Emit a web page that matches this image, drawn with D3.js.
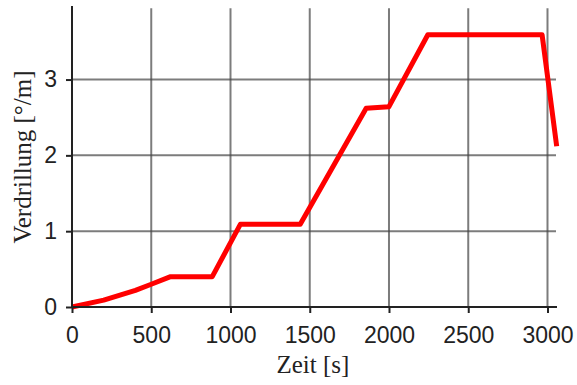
<!DOCTYPE html>
<html>
<head>
<meta charset="utf-8">
<script src="https://cdn.jsdelivr.net/npm/d3@7"></script>
<style>
  body { margin: 0; background: #fff; }
  .tick text { font-family: "Liberation Sans", Arial, sans-serif; font-size: 23px; fill: #222; }
  .axis-label { font-family: "Liberation Serif", "Times New Roman", serif; font-size: 25px; fill: #222; }
</style>
</head>
<body>
<svg id="chart" width="577" height="385"></svg>
<script>
/*** DATA ***/
var timeValues  = [0, 200, 400, 500, 622, 885, 1062, 1440, 1856, 1999, 2245, 2966, 3058];
var twistValues = [0, 0.09, 0.22, 0.30, 0.40, 0.40, 1.09, 1.09, 2.62, 2.64, 3.59, 3.59, 2.12];
var xTicks = [0, 500, 1000, 1500, 2000, 2500, 3000];
var yTicks = [0, 1, 2, 3];

var margin = {top: 6, right: 20, bottom: 78, left: 72};
var width = 577 - margin.left - margin.right;
var height = 385 - margin.top - margin.bottom;

var svg = d3.select('#chart');
var g = svg.append('g')
  .attr('transform', 'translate(' + margin.left + ',' + margin.top + ')');

//scales
var x = d3.scaleLinear().domain([0, 3060]).range([0, width]);
var y = d3.scaleLinear().domain([0, 3.97]).range([height, 0]);

//grid
g.append('g').selectAll('line').data(xTicks).join('line')
  .attr('x1', d => x(d)).attr('x2', d => x(d))
  .attr('y1', y(3.94)).attr('y2', height)
  .attr('stroke', '#444').attr('stroke-opacity', 0.7).attr('stroke-width', 2);

g.append('g').selectAll('line').data(yTicks).join('line')
  .attr('x1', 0).attr('x2', width - 1)
  .attr('y1', d => y(d)).attr('y2', d => y(d))
  .attr('stroke', '#444').attr('stroke-opacity', 0.7).attr('stroke-width', 2);

//data line
var data = timeValues.map((t, i) => ({t: t, v: twistValues[i]}));
var line = d3.line().x(d => x(d.t)).y(d => y(d.v));
g.append('path')
  .datum(data)
  .attr('d', line)
  .attr('fill', 'none')
  .attr('stroke', '#ff0000')
  .attr('stroke-width', 5)
  .attr('stroke-linejoin', 'round');

//axes
var xAxis = g.append('g')
  .attr('transform', 'translate(0,' + height + ')')
  .call(d3.axisBottom(x).tickValues(xTicks).tickSize(6).tickPadding(14).tickFormat(d3.format('d')));
var yAxis = g.append('g')
  .call(d3.axisLeft(y).tickValues(yTicks).tickSize(6).tickPadding(9).tickFormat(d3.format('d')));

[xAxis, yAxis].forEach(function(ax) {
  ax.select('.domain').remove();
  ax.selectAll('.tick line').attr('stroke', '#222').attr('stroke-width', 2);
});

g.append('line')
  .attr('x1', 0).attr('x2', width)
  .attr('y1', height).attr('y2', height)
  .attr('stroke', '#222').attr('stroke-width', 2);
g.append('line')
  .attr('x1', 0).attr('x2', 0)
  .attr('y1', 0).attr('y2', height)
  .attr('stroke', '#222').attr('stroke-width', 2);

//axis labels
svg.append('text')
  .attr('class', 'axis-label')
  .attr('x', margin.left + x(1520))
  .attr('y', 373)
  .attr('text-anchor', 'middle')
  .text('Zeit [s]');

svg.append('text')
  .attr('class', 'axis-label')
  .attr('transform', 'translate(31,' + 157 + ') rotate(-90)')
  .attr('text-anchor', 'middle')
  .text('Verdrillung [°/m]');
</script>
</body>
</html>
